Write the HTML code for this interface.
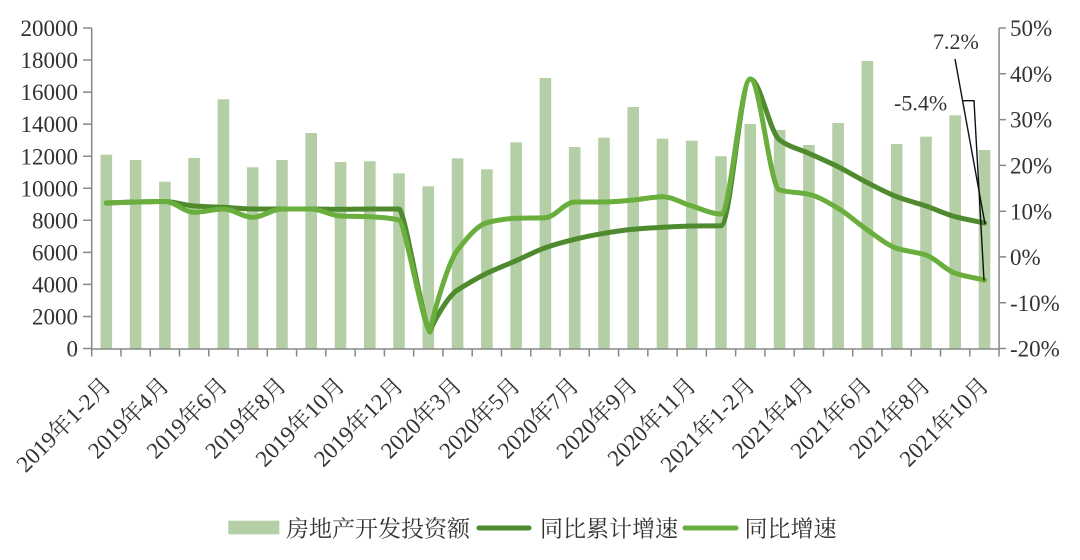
<!DOCTYPE html>
<html>
<head>
<meta charset="utf-8">
<style>
  html,body{margin:0;padding:0;background:#fff;}
  svg{display:block;}
  .t{font-family:"Liberation Serif","Noto Serif CJK SC",serif;fill:#333;}
</style>
</head>
<body>
<svg width="1080" height="560" viewBox="0 0 1080 560" xmlns="http://www.w3.org/2000/svg">
  <rect width="1080" height="560" fill="#fff"/>

  <!-- bars -->
  <g fill="#b4cfa5">
    <rect x="100.5" y="154.7" width="11.6" height="193.8"/>
    <rect x="129.8" y="160" width="11.6" height="188.5"/>
    <rect x="159.1" y="181.7" width="11.6" height="166.8"/>
    <rect x="188.3" y="158" width="11.6" height="190.5"/>
    <rect x="217.6" y="99.3" width="11.6" height="249.2"/>
    <rect x="246.9" y="167.3" width="11.6" height="181.2"/>
    <rect x="276.2" y="160" width="11.6" height="188.5"/>
    <rect x="305.4" y="133" width="11.6" height="215.5"/>
    <rect x="334.7" y="162" width="11.6" height="186.5"/>
    <rect x="364.0" y="161.3" width="11.6" height="187.2"/>
    <rect x="393.2" y="173.3" width="11.6" height="175.2"/>
    <rect x="422.5" y="186.3" width="11.6" height="162.2"/>
    <rect x="451.8" y="158.3" width="11.6" height="190.2"/>
    <rect x="481.1" y="169.3" width="11.6" height="179.2"/>
    <rect x="510.3" y="142.3" width="11.6" height="206.2"/>
    <rect x="539.6" y="78" width="11.6" height="270.5"/>
    <rect x="568.9" y="147" width="11.6" height="201.5"/>
    <rect x="598.2" y="137.7" width="11.6" height="210.8"/>
    <rect x="627.4" y="107" width="11.6" height="241.5"/>
    <rect x="656.7" y="138.7" width="11.6" height="209.8"/>
    <rect x="686.0" y="140.7" width="11.6" height="207.8"/>
    <rect x="715.2" y="156.2" width="11.6" height="192.3"/>
    <rect x="744.5" y="124" width="11.6" height="224.5"/>
    <rect x="773.8" y="130" width="11.6" height="218.5"/>
    <rect x="803.1" y="145" width="11.6" height="203.5"/>
    <rect x="832.3" y="123" width="11.6" height="225.5"/>
    <rect x="861.6" y="61" width="11.6" height="287.5"/>
    <rect x="890.9" y="144" width="11.6" height="204.5"/>
    <rect x="920.2" y="136.7" width="11.6" height="211.8"/>
    <rect x="949.4" y="115.3" width="11.6" height="233.2"/>
    <rect x="978.7" y="150" width="11.6" height="198.5"/>
  </g>

  <!-- axes -->
  <g stroke="#888" stroke-width="1.5" fill="none">
    <path d="M91.7,28 V349 H999.1 V28"/>
    <path d="M83,28 H91.7 M83,60.05 H91.7 M83,92.1 H91.7 M83,124.15 H91.7 M83,156.2 H91.7 M83,188.25 H91.7 M83,220.3 H91.7 M83,252.35 H91.7 M83,284.4 H91.7 M83,316.45 H91.7 M83,348.5 H91.7"/>
    <path d="M999,28 H1006 M999,73.8 H1006 M999,119.6 H1006 M999,165.4 H1006 M999,211.2 H1006 M999,256.9 H1006 M999,302.7 H1006 M999,348.5 H1006"/>
    <path d="M91.7,349V356.5 M120.97,349V356.5 M150.24,349V356.5 M179.51,349V356.5 M208.78,349V356.5 M238.05,349V356.5 M267.32,349V356.5 M296.59,349V356.5 M325.86,349V356.5 M355.13,349V356.5 M384.4,349V356.5 M413.67,349V356.5 M442.94,349V356.5 M472.21,349V356.5 M501.48,349V356.5 M530.75,349V356.5 M560.02,349V356.5 M589.29,349V356.5 M618.56,349V356.5 M647.83,349V356.5 M677.1,349V356.5 M706.37,349V356.5 M735.64,349V356.5 M764.91,349V356.5 M794.18,349V356.5 M823.45,349V356.5 M852.72,349V356.5 M881.99,349V356.5 M911.26,349V356.5 M940.53,349V356.5 M969.8,349V356.5 M999.07,349V356.5"/>
  </g>

  <!-- dark line: 同比累计增速 -->
  <path fill="none" stroke="#4f8b2e" stroke-width="5" stroke-linecap="round" stroke-linejoin="round"
    d="M106.3,203 S125.8,202.22 135.6,202 S155.1,201.5 164.9,201.5 S184.4,205.33 194.1,206 S213.6,206.81 223.4,207.3 S242.9,209 252.7,209 S272.2,209 282,209 S301.5,209 311.2,209 S330.7,209.3 340.5,209.3 S360,209 369.8,209 S389.3,209 399,209 C405,209 423,326 430,332 C433,322 448,296 457.6,290 S477.1,278.09 486.9,273.3 S506.4,264.97 516.1,260.7 S535.6,251.1 545.4,247.7 S564.9,241.63 574.7,239.3 S594.2,234.9 604,233.3 S623.4,230.19 633.2,229.3 S652.7,227.83 662.5,227.3 S682,226.16 691.8,226 S711.3,225.9 721,225.7 S740.5,79 750.3,79 S769.8,132.72 779.6,140 S799.1,148.85 808.9,153.3 S828.3,161.84 838.1,166.7 S857.6,177.72 867.4,182.7 S886.9,192.97 896.7,196.7 S916.2,202.68 926,206 S945.4,214.06 955.2,216.7 S974.7,220.9 984.5,223"/>

  <!-- light line: 同比增速 -->
  <path fill="none" stroke="#6aae3d" stroke-width="5" stroke-linecap="round" stroke-linejoin="round"
    d="M106.3,203 S125.8,202.22 135.6,202 S155.1,201.5 164.9,201.5 S184.4,212.3 194.1,212.3 S213.6,209 223.4,209 S242.9,217.3 252.7,217.3 S272.2,209 282,209 S301.5,209 311.2,209 S330.7,215.58 340.5,216 S360,216.32 369.8,216.7 S389.3,217.86 399,220 C405,222 423,326 430,332 C433,315 448,262 457.6,250 S477.1,225.23 486.9,222.7 S506.4,218.65 516.1,218.3 S535.6,218.09 545.4,217.7 S564.9,202 574.7,202 S594.2,202 604,202 S623.4,200.83 633.2,200 S652.7,196.7 662.5,196.7 S682,203.13 691.8,206 S711.3,214 721,214 S740.5,79 750.3,79 S769.8,187.24 779.6,190 S799.1,192.11 808.9,194.3 S828.3,202.63 838.1,208.3 S857.6,223.38 867.4,230 S886.9,245.03 896.7,248.3 S916.2,251.73 926,255 S945.4,270.03 955.2,273.3 S974.7,277.77 984.5,280"/>

  <!-- annotation leaders -->
  <g stroke="#111" stroke-width="1.4" fill="none">
    <path d="M955,59 L985,224"/>
    <path d="M962,100.7 H974 L984,280.5"/>
  </g>
  <text class="t" x="933" y="49" font-size="22">7.2%</text>
  <text class="t" x="894" y="110.5" font-size="22">-5.4%</text>

  <!-- left axis labels -->
  <g class="t" font-size="23" text-anchor="end">
    <text x="78" y="28" dy="0.35em">20000</text>
    <text x="78" y="60.05" dy="0.35em">18000</text>
    <text x="78" y="92.1" dy="0.35em">16000</text>
    <text x="78" y="124.15" dy="0.35em">14000</text>
    <text x="78" y="156.2" dy="0.35em">12000</text>
    <text x="78" y="188.25" dy="0.35em">10000</text>
    <text x="78" y="220.3" dy="0.35em">8000</text>
    <text x="78" y="252.35" dy="0.35em">6000</text>
    <text x="78" y="284.4" dy="0.35em">4000</text>
    <text x="78" y="316.45" dy="0.35em">2000</text>
    <text x="78" y="348.5" dy="0.35em">0</text>
  </g>

  <!-- right axis labels -->
  <g class="t" font-size="23">
    <text x="1010" y="28" dy="0.35em">50%</text>
    <text x="1010" y="73.8" dy="0.35em">40%</text>
    <text x="1010" y="119.6" dy="0.35em">30%</text>
    <text x="1010" y="165.4" dy="0.35em">20%</text>
    <text x="1010" y="211.2" dy="0.35em">10%</text>
    <text x="1010" y="256.9" dy="0.35em">0%</text>
    <text x="1010" y="302.7" dy="0.35em">-10%</text>
    <text x="1010" y="348.5" dy="0.35em">-20%</text>
  </g>

  <!-- x axis labels -->
  <g class="t" font-size="23" text-anchor="end">
    <text transform="translate(106.8,381) rotate(-45)" dy="0.35em">2019年1-2月</text>
    <text transform="translate(164.9,381) rotate(-45)" dy="0.35em">2019年4月</text>
    <text transform="translate(223.4,381) rotate(-45)" dy="0.35em">2019年6月</text>
    <text transform="translate(282,381) rotate(-45)" dy="0.35em">2019年8月</text>
    <text transform="translate(340.5,381) rotate(-45)" dy="0.35em">2019年10月</text>
    <text transform="translate(399,381) rotate(-45)" dy="0.35em">2019年12月</text>
    <text transform="translate(457.6,381) rotate(-45)" dy="0.35em">2020年3月</text>
    <text transform="translate(516.1,381) rotate(-45)" dy="0.35em">2020年5月</text>
    <text transform="translate(574.7,381) rotate(-45)" dy="0.35em">2020年7月</text>
    <text transform="translate(633.2,381) rotate(-45)" dy="0.35em">2020年9月</text>
    <text transform="translate(691.8,381) rotate(-45)" dy="0.35em">2020年11月</text>
    <text transform="translate(750.8,381) rotate(-45)" dy="0.35em">2021年1-2月</text>
    <text transform="translate(808.9,381) rotate(-45)" dy="0.35em">2021年4月</text>
    <text transform="translate(867.4,381) rotate(-45)" dy="0.35em">2021年6月</text>
    <text transform="translate(926,381) rotate(-45)" dy="0.35em">2021年8月</text>
    <text transform="translate(984.5,381) rotate(-45)" dy="0.35em">2021年10月</text>
  </g>

  <!-- legend -->
  <rect x="228.3" y="520.7" width="51" height="13.6" fill="#b4cfa5"/>
  <text class="t" x="286" y="528" dy="0.36em" font-size="23">房地产开发投资额</text>
  <line x1="479" y1="528" x2="529" y2="528" stroke="#4f8b2e" stroke-width="5" stroke-linecap="round"/>
  <text class="t" x="540" y="528" dy="0.36em" font-size="23">同比累计增速</text>
  <line x1="685" y1="528" x2="736" y2="528" stroke="#6aae3d" stroke-width="5" stroke-linecap="round"/>
  <text class="t" x="744.5" y="528" dy="0.36em" font-size="23">同比增速</text>
</svg>
</body>
</html>
